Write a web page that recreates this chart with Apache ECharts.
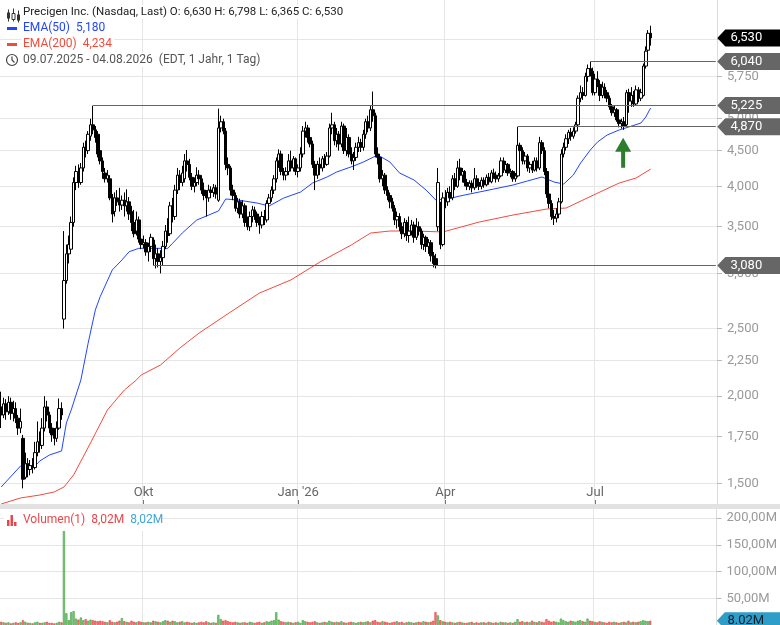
<!DOCTYPE html>
<html><head><meta charset="utf-8">
<script src="https://cdn.jsdelivr.net/npm/echarts@6/dist/echarts.min.js"></script>
<style>html,body{margin:0;padding:0;background:#fff}#c{width:780px;height:625px}</style>
</head><body><div id="c"></div>
<script>
// ---------- data ----------
const startDate = [2025, 6, 9]; // 09.07.2025
const holidays = ['2025-09-01','2025-11-27','2025-12-25','2026-01-01','2026-01-19','2026-02-16','2026-04-03','2026-05-25','2026-06-19','2026-07-03'];
const padDays = 27;
const monthLabels = {'2025-10-01':'Okt','2026-01-02':"Jan '26",'2026-04-01':'Apr','2026-07-01':'Jul'};
// [open, close, low, high]
const candles = [
[1.93,1.88,1.80,2.03],[1.88,1.95,1.86,1.99],[1.95,1.90,1.85,1.98],[1.90,1.96,1.88,2.00],[1.96,1.89,1.85,1.99],
[1.89,1.92,1.84,1.97],[1.92,1.86,1.83,1.96],[1.86,1.80,1.76,1.88],[1.80,1.84,1.77,1.92],[1.74,1.52,1.475,1.76],
[1.53,1.60,1.52,1.66],[1.60,1.57,1.53,1.63],[1.57,1.59,1.54,1.62],[1.59,1.58,1.55,1.63],[1.58,1.66,1.57,1.72],
[1.66,1.72,1.64,1.84],[1.72,1.70,1.66,1.78],[1.70,1.80,1.68,1.86],[1.80,1.93,1.78,2.00],[1.93,1.88,1.84,1.97],
[1.88,1.80,1.77,1.90],[1.80,1.76,1.72,1.83],[1.76,1.74,1.70,1.80],[1.74,1.80,1.72,1.84],[1.80,1.92,1.79,1.985],
[1.92,1.88,1.85,1.96],
[2.58,2.93,2.50,3.45],[2.93,3.20,2.90,3.30],[3.20,3.30,3.10,3.40],[3.25,3.55,3.20,3.62],[3.55,4.05,3.50,4.12],
[4.05,4.20,3.95,4.28],[4.18,4.05,3.98,4.30],[4.05,4.25,4.02,4.32],[4.25,4.55,4.20,4.62],[4.55,4.50,4.40,4.65],
[4.50,4.75,4.45,4.80],[4.72,4.90,4.65,5.00],[4.90,4.82,4.75,5.22],[4.82,4.70,4.62,4.88],[4.75,4.45,4.40,4.80],
[4.50,4.35,4.30,4.60],[4.35,4.20,4.10,4.40],[4.18,4.10,4.05,4.25],[4.10,4.15,4.05,4.22],[4.10,3.85,3.82,4.15],
[3.85,3.65,3.55,3.90],[3.68,3.85,3.62,3.92],[3.85,3.80,3.75,3.95],[3.80,3.76,3.68,3.98],[3.76,3.82,3.70,3.88],
[3.82,3.75,3.62,3.92],[3.75,3.80,3.68,3.96],[3.80,3.65,3.58,3.86],[3.68,3.55,3.45,3.75],[3.55,3.42,3.38,3.70],
[3.45,3.58,3.40,3.68],[3.58,3.36,3.32,3.62],[3.36,3.30,3.25,3.42],[3.30,3.32,3.26,3.40],[3.32,3.22,3.18,3.36],
[3.22,3.28,3.12,3.32],[3.28,3.38,3.22,3.42],[3.35,3.15,3.08,3.38],[3.15,3.20,3.05,3.30],[3.20,3.12,3.06,3.26],
[3.12,3.16,3.00,3.24],[3.16,3.28,3.08,3.34],[3.28,3.45,3.25,3.52],[3.45,3.40,3.32,3.60],[3.42,3.75,3.40,3.80],
[3.75,3.62,3.55,3.85],[3.62,3.95,3.58,4.02],[3.95,4.15,3.90,4.25],[4.15,4.05,3.95,4.22],[4.05,4.18,4.00,4.28],
[4.10,4.35,4.05,4.45],[4.35,4.30,4.20,4.51],[4.30,4.12,4.08,4.38],[4.12,4.00,3.95,4.18],[4.00,4.05,3.92,4.12],
[4.05,4.15,4.00,4.26],[4.15,4.10,4.02,4.22],[4.10,3.95,3.90,4.15],[3.95,3.88,3.82,4.05],[3.88,3.85,3.62,3.95],
[3.85,3.95,3.80,4.02],[3.95,3.92,3.85,4.00],[3.92,3.98,3.86,4.03],[3.98,3.90,3.84,4.02],[3.82,4.85,3.80,5.17],
[4.85,4.95,4.78,5.05],[4.95,4.80,4.75,5.00],[4.80,4.30,4.22,4.85],[4.30,4.25,4.15,4.40],[4.25,3.95,3.88,4.28],
[3.95,3.88,3.82,4.02],[3.88,3.72,3.68,3.92],[3.72,3.80,3.66,3.85],[3.80,3.65,3.60,3.84],[3.65,3.75,3.60,3.82],
[3.75,3.55,3.50,3.78],[3.55,3.50,3.46,3.62],[3.50,3.62,3.45,3.68],[3.62,3.70,3.55,3.75],[3.70,3.65,3.58,3.74],
[3.65,3.55,3.50,3.68],[3.55,3.52,3.42,3.62],[3.52,3.62,3.48,3.68],[3.62,3.58,3.52,3.70],[3.58,3.78,3.55,3.82],
[3.78,3.85,3.72,3.90],[3.85,3.95,3.80,4.00],[3.95,4.10,3.90,4.15],[4.10,4.35,4.05,4.40],[4.35,4.45,4.25,4.52],
[4.45,4.20,4.15,4.50],[4.20,4.15,4.08,4.25],[4.15,4.20,4.08,4.26],[4.20,4.35,4.15,4.45],[4.35,4.25,4.20,4.50],
[4.25,4.38,4.20,4.42],[4.38,4.20,4.15,4.40],[4.20,4.25,4.12,4.30],[4.25,4.45,4.20,4.55],[4.45,4.80,4.40,4.88],
[4.80,4.85,4.70,4.95],[4.85,4.70,4.62,4.90],[4.70,4.60,4.55,4.78],[4.60,4.30,4.25,4.65],[4.30,4.15,3.95,4.35],
[4.15,4.30,4.10,4.35],[4.30,4.25,4.15,4.40],[4.25,4.38,4.20,4.42],[4.38,4.30,4.25,4.45],[4.30,4.42,4.28,4.48],
[4.42,4.85,4.40,4.92],[4.85,4.90,4.75,5.10],[4.90,4.65,4.58,4.95],[4.65,4.75,4.55,4.85],[4.75,4.60,4.50,4.80],
[4.60,4.88,4.55,4.95],[4.88,4.50,4.45,4.92],[4.50,4.70,4.42,4.85],[4.70,4.45,4.40,4.75],[4.45,4.35,4.30,4.55],
[4.35,4.40,4.22,4.48],[4.40,4.55,4.35,4.62],[4.55,4.62,4.48,4.71],[4.62,4.55,4.48,4.68],[4.55,4.75,4.50,4.82],
[4.75,4.95,4.68,5.00],[4.95,4.85,4.78,5.05],[4.85,5.15,4.80,5.22],[5.15,5.05,4.95,5.47],[5.05,4.45,4.40,5.10],
[4.45,4.40,4.30,4.55],[4.40,4.10,4.05,4.45],[4.10,4.15,4.00,4.22],[4.15,3.95,3.90,4.18],[3.95,3.88,3.82,4.00],
[3.88,3.80,3.72,3.92],[3.80,3.72,3.68,3.85],[3.72,3.58,3.52,3.76],[3.58,3.62,3.48,3.68],[3.62,3.50,3.45,3.66],
[3.50,3.42,3.36,3.55],[3.42,3.55,3.38,3.60],[3.55,3.40,3.34,3.58],[3.40,3.45,3.32,3.62],[3.45,3.52,3.40,3.58],
[3.52,3.38,3.32,3.56],[3.38,3.50,3.35,3.60],[3.50,3.45,3.40,3.56],[3.45,3.30,3.25,3.48],[3.30,3.38,3.24,3.42],
[3.38,3.28,3.22,3.40],[3.28,3.32,3.20,3.36],[3.32,3.18,3.12,3.35],[3.18,3.10,3.06,3.22],[3.15,3.08,3.05,3.20],
[3.50,4.05,3.45,4.25],[3.75,3.30,3.25,3.80],[3.30,3.85,3.28,3.92],[3.85,3.80,3.72,3.95],[3.80,3.92,3.75,3.98],
[3.92,3.85,3.80,4.00],[3.85,4.10,3.82,4.15],[4.10,4.00,3.95,4.18],[4.00,4.25,3.98,4.35],[4.25,4.15,4.08,4.38],
[4.15,4.20,4.05,4.25],[4.20,4.05,4.00,4.22],[4.05,4.00,3.95,4.10],[4.00,4.04,3.95,4.08],[4.04,3.98,3.92,4.08],
[3.98,4.10,3.95,4.25],[4.10,4.05,3.98,4.15],[4.05,4.00,3.95,4.10],[4.00,4.08,3.96,4.12],[4.08,4.02,3.98,4.12],
[4.02,4.12,4.00,4.16],[4.12,4.06,4.02,4.18],[4.06,4.18,4.04,4.22],[4.18,4.15,4.10,4.24],[4.15,4.10,4.05,4.20],
[4.10,4.14,4.06,4.18],[4.14,4.35,4.12,4.40],[4.35,4.22,4.18,4.40],[4.22,4.30,4.18,4.35],[4.30,4.18,4.14,4.32],
[4.18,4.20,4.12,4.24],[4.20,4.10,4.06,4.22],[4.10,4.14,4.06,4.18],[4.14,4.58,4.12,4.87],[4.58,4.50,4.38,4.62],
[4.50,4.35,4.30,4.55],[4.35,4.42,4.30,4.48],[4.42,4.25,4.20,4.45],[4.25,4.30,4.18,4.34],[4.30,4.22,4.18,4.35],
[4.22,4.35,4.20,4.40],[4.35,4.25,4.20,4.40],[4.25,4.62,4.22,4.71],[4.62,4.50,4.45,4.66],[4.50,4.20,4.15,4.55],
[4.20,3.90,3.85,4.25],[3.90,3.78,3.72,3.95],[3.78,3.62,3.58,3.82],[3.62,3.60,3.52,3.70],[3.60,3.65,3.55,3.72],
[3.65,3.80,3.60,3.85],[3.80,4.45,3.78,4.52],[4.45,4.55,4.40,4.62],[4.55,4.68,4.50,4.75],[4.68,4.78,4.60,4.82],
[4.78,4.72,4.65,4.85],[4.72,4.80,4.68,4.86],[4.80,4.90,4.76,4.95],[4.90,5.35,4.86,5.40],[5.35,5.45,5.28,5.58],
[5.45,5.40,5.32,5.55],[5.40,5.75,5.38,5.82],[5.75,5.90,5.65,5.98],[5.90,5.85,5.75,6.04],[5.85,5.45,5.40,5.92],
[5.45,5.70,5.40,5.80],[5.70,5.60,5.55,5.85],[5.60,5.40,5.30,5.68],[5.40,5.55,5.35,5.65],[5.55,5.45,5.35,5.62],
[5.45,5.35,5.28,5.50],[5.35,5.20,5.15,5.40],[5.20,5.10,5.05,5.25],[5.10,5.15,5.03,5.22],[5.15,4.98,4.95,5.18],
[4.98,4.92,4.86,5.02],[4.92,4.95,4.84,5.00],[4.95,4.88,4.82,5.03],[4.90,5.45,4.88,5.50],[5.45,5.30,5.10,5.52],
[5.30,5.40,5.20,5.55],[5.40,5.25,5.20,5.48],[5.25,5.50,5.22,5.58],[5.50,5.35,5.28,5.55],[5.35,5.45,5.30,5.52],
[5.40,5.95,5.38,6.00],[5.95,6.25,5.90,6.35],[6.27,6.63,6.20,6.70],[6.63,6.53,6.365,6.798]
];
// volume in millions
const volumes = [
6,5,4,5,3,4,5,4,5, 9, 6,4,4,3,5,6,4,4,5,6,4,4,3,4,6,5, 176, 22,9,24,26,
12,10,14,9,11,8,10,9,8,7, 8,7,6,5,9,6,5,6,8,13, 7,6,5,8,6,5,7,6,5,5, 6,5,8,7,6,5,7,9,8,6,
8,7,5,6,7,5,6,5,4,5, 4,5,6,5,7,5,4,5,4, 19, 11,8,9,7,6,5,6,5,4,5, 5,4,6,5,4,5,6,4,5,7,6,8,9, 24,
10,7,6,5,6,5,4,5,6,4,9, 7,6,5,6,7,5,4,5,6,5, 8,6,5,6,5,7,5,4,5,6, 5,4,5,6,5,6,7,5,8,9,
6,5,7,6,5,4,5,6,7,5,6,4,5,6,5, 4,5,6,5,7,6,5,6,8,24, 18,9,7,6,5,6,5,4,5,6,
5,4,4,5,6,4,5,4,5,5,4,6,5,4,5,4,6,5,5,4,5,4,6, 11, 6,7,5,6,5,8,6,5,7,6,5, 11, 8,6,7,6,5,12,
9,7,6,8,7,6,8,9,7,6,12,8,7, 6,5,7,6,5,4,6,5,6,5,4,5,6,5,8,5,6,5,6,7,9,8,7,8.02
];
// EMA readings: [candle index, value]
const ema50 = [[0,1.482],[8,1.588],[14,1.588],[16,1.615],[20,1.647],[25,1.669],[27,1.831],[29,1.911],[33,2.110],
[36,2.382],[39,2.659],[41,2.778],[46,3.034],[50,3.136],[53,3.223],[57,3.259],[69,3.259],[71,3.314],[75,3.428],
[81,3.579],[86,3.638],[90,3.687],[93,3.836],[98,3.823],[106,3.785],[111,3.748],[117,3.848],[124,3.925],[129,4.044],
[135,4.125],[139,4.194],[146,4.278],[150,4.334],[156,4.436],[161,4.334],[165,4.180],[171,4.084],[176,3.951],
[180,3.823],[185,3.836],[190,3.874],[198,3.925],[204,3.964],[212,4.017],[218,4.071],[224,4.125],[229,4.057],
[233,4.030],[237,4.152],[240,4.320],[244,4.509],[247,4.630],[251,4.739],[256,4.818],[260,4.866],[265,4.930],
[267,5.029],[269,5.180]];
const ema200 = [[0,1.401],[8,1.429],[16,1.443],[22,1.458],[26,1.482],[30,1.542],[37,1.714],[44,1.911],[51,2.041],
[56,2.110],[58,2.145],[66,2.217],[74,2.345],[82,2.464],[95,2.641],[107,2.812],[120,2.936],[132,3.115],[145,3.295],
[153,3.428],[161,3.451],[171,3.451],[183,3.440],[198,3.555],[212,3.638],[226,3.711],[234,3.723],[241,3.823],
[248,3.925],[256,4.044],[263,4.111],[269,4.234]];
const levels = [{start:38, value:5.225, label:'5,225'},{start:63, value:3.08, label:'3,080'},
                {start:214, value:4.87, label:'4,870'},{start:244, value:6.04, label:'6,040'}];
const lastPrice = {value:6.53, label:'6,530'};
const lastVolume = {value:8.02, label:'8.02M'};
const arrowAt = {index:257, value:4.47};
const priceTicks = [1.5,1.75,2,2.25,2.5,3,3.5,4,4.5,5,5.75,6.5];
const volumeTicks = [50,100,150,200];

// ---------- build ----------
const dates = [];
{
  const d = new Date(Date.UTC(startDate[0], startDate[1], startDate[2]));
  while (dates.length < candles.length + padDays) {
    const s = d.toISOString().slice(0,10), wd = d.getUTCDay();
    if (wd !== 0 && wd !== 6 && holidays.indexOf(s) < 0) dates.push(s);
    d.setUTCDate(d.getUTCDate() + 1);
  }
}
const lastCat = dates.length - 1;
const labelIdx = {};
dates.forEach((s,i) => { if (monthLabels[s]) labelIdx[i] = monthLabels[s]; });
const isLab = i => labelIdx[i] !== undefined;
const L = Math.log;
const fmt3 = v => v.toFixed(3).replace('.', ',');

const pxPerLog = 302.8, baseY = 483.3, gridH = 504;
const yMin = L(1.5) - (gridH - baseY) / pxPerLog;
const yMax = L(1.5) + baseY / pxPerLog;

const candleData = candles.map(c => [L(c[0]), L(c[1]), L(c[2]), L(c[3])]);
const volData = volumes.map((v,i) => {
  const up = candles[i] && candles[i][1] >= candles[i][0];
  return {value: v, itemStyle: up ? {color:'#7fcc7f', borderColor:'#3c9a3c'} : {color:'#f27c7c', borderColor:'#dd4040'}};
});

const tagPath = 'path://M0,8.5 L8,0 L70,0 L70,17 L8,17 Z';
function tag(val, text, bg, fg) {
  return {coord:[lastCat, val], symbol: tagPath, symbolSize:[70,17], symbolOffset:[36.5,0],
    itemStyle:{color:bg}, label:{show:true, position:'inside', formatter:text, color:fg, fontSize:13,
    fontFamily:'Roboto, Arial, sans-serif', offset:[-6,0]}};
}

const xCommon = (gi, showLabel) => ({
  type:'category', gridIndex:gi, data:dates, boundaryGap:true,
  axisLine:{show:false},
  axisTick:{show:showLabel, inside:true, alignWithLabel:true, length:4, interval:(i)=>isLab(i), lineStyle:{color:'#777'}},
  axisLabel:{show:showLabel, inside:true, interval:(i)=>isLab(i), formatter:(v,i)=>labelIdx[i]||'', color:'#666', fontSize:13, margin:5, fontFamily:'Roboto, Arial, sans-serif'},
  splitLine:{show:true, interval:(i)=>isLab(i), lineStyle:{color:'#e6e6e6'}}
});

const hdrFont = '12px Roboto, Arial, sans-serif';
const chart = echarts.init(document.getElementById('c'), null, {renderer:'canvas'});
chart.setOption({
  animation:false,
  backgroundColor:'#fff',
  grid:[{left:0, right:63, top:0, height:gridH}, {left:0, right:63, top:509, height:116}],
  xAxis:[xCommon(0,true), xCommon(1,false)],
  yAxis:[
    {type:'value', gridIndex:0, position:'right', min:yMin, max:yMax,
     axisLine:{show:true, lineStyle:{color:'#dcdcdc'}},
     axisTick:{show:true, customValues:priceTicks.map(L), length:5, lineStyle:{color:'#bbb'}},
     axisLabel:{customValues:priceTicks.map(L), formatter:v=>fmt3(Math.exp(v)), color:'#9a9a9a', fontSize:13, margin:10, fontFamily:'Roboto, Arial, sans-serif'},
     splitLine:{show:true, lineStyle:{color:'#e6e6e6'}}},
    {type:'value', gridIndex:1, position:'right', min:0, max:217,
     axisLine:{show:true, lineStyle:{color:'#dcdcdc'}},
     axisTick:{show:true, customValues:volumeTicks, length:5, lineStyle:{color:'#bbb'}},
     axisLabel:{customValues:volumeTicks, formatter:v=>v.toFixed(2).replace('.', ',')+'M', color:'#9a9a9a', fontSize:13, margin:10, fontFamily:'Roboto, Arial, sans-serif'},
     splitLine:{show:true, lineStyle:{color:'#e6e6e6'}}}
  ],
  series:[
    {type:'line', xAxisIndex:0, yAxisIndex:0, data:ema200.map(p=>[p[0], L(p[1])]), symbol:'none', silent:true,
     lineStyle:{color:'#f24b3d', width:1}, z:2},
    {type:'line', xAxisIndex:0, yAxisIndex:0, data:ema50.map(p=>[p[0], L(p[1])]), symbol:'none', silent:true,
     lineStyle:{color:'#2145ff', width:1}, z:2},
    {type:'candlestick', xAxisIndex:0, yAxisIndex:0, data:candleData, barWidth:3, clip:false, z:3,
     itemStyle:{color:'#fff', color0:'#000', borderColor:'#000', borderColor0:'#000', borderWidth:1},
     markLine:{silent:true, symbol:['none','none'], label:{show:false}, lineStyle:{color:'#666', width:1.2, type:'solid'},
       data: levels.map(l => [{coord:[l.start, L(l.value)]}, {coord:[lastCat, L(l.value)]}])},
     markPoint:{silent:true, data:[
       ...levels.map(l => tag(L(l.value), l.label, '#666', '#fff')),
       tag(L(lastPrice.value), lastPrice.label, '#000', '#fff'),
       {coord:[arrowAt.index, L(arrowAt.value)], symbol:'path://M8,0 L16,14 L10,14 L10,30 L6,30 L6,14 L0,14 Z',
        symbolSize:[16,30], symbolOffset:[1.5,0], itemStyle:{color:'#2d7d2d'}, label:{show:false}}
     ]}},
    {type:'bar', xAxisIndex:1, yAxisIndex:1, data:volData, barWidth:'90%', clip:false,
     itemStyle:{borderWidth:0.6},
     markPoint:{silent:true, data:[tag(lastVolume.value, lastVolume.label, '#2f9dc9', '#10202a')]}}
  ],
  graphic:[
    {type:'rect', shape:{x:0, y:504, width:780, height:5}, style:{fill:'#e2e2e2'}, z:10},
    {type:'group', left:6, top:6, z:20, children:[
      {type:'rect', shape:{x:0,y:0,width:14,height:14}, style:{fill:'#fff'}},
      {type:'line', shape:{x1:2,y1:1,x2:2,y2:13}, style:{stroke:'#333', lineWidth:1}},
      {type:'rect', shape:{x:0.5,y:4,width:3,height:6}, style:{fill:'#333'}},
      {type:'line', shape:{x1:7,y1:0,x2:7,y2:13}, style:{stroke:'#333', lineWidth:1}},
      {type:'rect', shape:{x:5.5,y:5,width:3,height:6}, style:{fill:'#fff', stroke:'#333', lineWidth:1}},
      {type:'line', shape:{x1:12,y1:2,x2:12,y2:14}, style:{stroke:'#333', lineWidth:1}},
      {type:'rect', shape:{x:10.5,y:6,width:3,height:6}, style:{fill:'#333'}}
    ]},
    {type:'text', left:21, top:5, z:20, style:{text:'Precigen Inc. (Nasdaq, Last) O: 6,630 H: 6,798 L: 6,365 C: 6,530',
      fill:'#222', font:'11.5px Roboto, Arial, sans-serif', backgroundColor:'#fff', padding:[1,2]}},
    {type:'rect', shape:{x:7, y:27, width:10, height:3}, style:{fill:'#2145ff'}, z:20},
    {type:'text', left:21, top:21, z:20, style:{text:'EMA(50)  5,180', fill:'#2145ff', font:hdrFont, backgroundColor:'#fff', padding:[1,2]}},
    {type:'rect', shape:{x:7, y:43, width:10, height:3}, style:{fill:'#f24b3d'}, z:20},
    {type:'text', left:21, top:37, z:20, style:{text:'EMA(200)  4,234', fill:'#f24b3d', font:hdrFont, backgroundColor:'#fff', padding:[1,2]}},
    {type:'circle', shape:{cx:12, cy:60, r:5.5}, style:{fill:'#fff', stroke:'#444', lineWidth:1.2}, z:20},
    {type:'polyline', shape:{points:[[12,56.5],[12,60],[14.5,62.5]]}, style:{stroke:'#444', lineWidth:1.2, fill:null}, z:20},
    {type:'text', left:21, top:53, z:20, style:{text:'09.07.2025 - 04.08.2026  (EDT, 1 Jahr, 1 Tag)', fill:'#555', font:hdrFont, backgroundColor:'#fff', padding:[1,2]}},
    {type:'rect', shape:{x:4, y:511, width:154, height:20}, style:{fill:'#fff'}, z:20},
    {type:'rect', shape:{x:7, y:520, width:2.5, height:6}, style:{fill:'#e8474a'}, z:21},
    {type:'rect', shape:{x:10.5, y:515, width:2.5, height:11}, style:{fill:'#e8474a'}, z:21},
    {type:'rect', shape:{x:14, y:522, width:2.5, height:4}, style:{fill:'#e8474a'}, z:21},
    {type:'text', left:23, top:514, z:21, style:{text:'{r|Volumen(1)  8,02M}  {b|8,02M}', font:hdrFont,
      rich:{r:{fill:'#e8474a', font:hdrFont}, b:{fill:'#3fa6d8', font:hdrFont}}}}
  ]
});
</script></body></html>
